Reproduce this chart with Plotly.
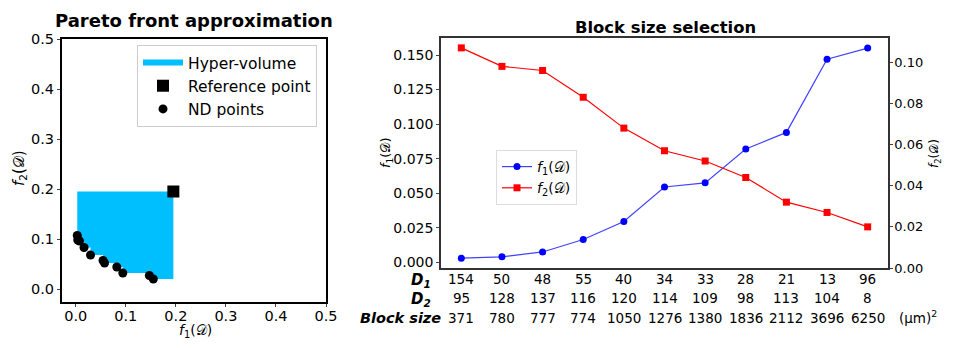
import plotly.graph_objects as go

# objective values for each candidate block size
f1 = [0.003, 0.004, 0.0075, 0.0165, 0.0295, 0.0545, 0.0575, 0.082, 0.094, 0.147, 0.155]
f2 = [0.107, 0.098, 0.096, 0.083, 0.068, 0.057, 0.052, 0.044, 0.032, 0.027, 0.020]
ref_point = [0.195, 0.195]

d1 = [154, 50, 48, 55, 40, 34, 33, 28, 21, 13, 96]
d2 = [95, 128, 137, 116, 120, 114, 109, 98, 113, 104, 8]
block_size = [371, 780, 777, 774, 1050, 1276, 1380, 1836, 2112, 3696, 6250]

# page body has an 8px margin, so the figure is shrunk and shifted
OFF = 8
W, H = 953 - 2 * OFF, 348 - 2 * OFF
FONT = "DejaVu Sans"
CAL_D = "𝒟"


def fx(px_):
    return (px_ - OFF) / W


def fy(py_):
    return 1 - (py_ - OFF) / H


def flab(n):
    return f"<i>f</i><sub>{n}</sub>({CAL_D})"


# staircase hyper-volume polygon dominated by the ND points
hv_x, hv_y = [f1[0]], [ref_point[1]]
for i in range(len(f1)):
    hv_x.append(f1[i])
    hv_y.append(f2[i])
    nxt = f1[i + 1] if i + 1 < len(f1) else ref_point[0]
    hv_x.append(nxt)
    hv_y.append(f2[i])
hv_x.append(ref_point[0])
hv_y.append(ref_point[1])

idx = list(range(len(block_size)))

fig = go.Figure()

fig.add_trace(go.Scatter(x=hv_x, y=hv_y, fill="toself", fillcolor="#00BFFF",
                         mode="none", name="Hyper-volume", xaxis="x", yaxis="y",
                         legend="legend", legendgroup="a"))
fig.add_trace(go.Scatter(x=[ref_point[0]], y=[ref_point[1]], mode="markers",
                         marker=dict(symbol="square", size=12, color="black"),
                         name="Reference point", xaxis="x", yaxis="y",
                         legend="legend", legendgroup="b"))
fig.add_trace(go.Scatter(x=f1, y=f2, mode="markers",
                         marker=dict(symbol="circle", size=9, color="black"),
                         name="ND points", xaxis="x", yaxis="y",
                         legend="legend", legendgroup="c"))

fig.add_trace(go.Scatter(x=idx, y=f1, mode="lines+markers",
                         line=dict(color="rgba(0,0,255,0.75)", width=1.2),
                         marker=dict(symbol="circle", size=7, color="#0000FF"),
                         name=flab(1), xaxis="x2", yaxis="y2", legend="legend2"))
fig.add_trace(go.Scatter(x=idx, y=f2, mode="lines+markers",
                         line=dict(color="#FF0000", width=1.2),
                         marker=dict(symbol="square", size=7, color="#FF0000"),
                         name=flab(2), xaxis="x2", yaxis="y3", legend="legend2"))

axis_common = dict(showgrid=False, zeroline=False, ticks="outside", ticklen=3)


def note(x, y, text, size, xanchor="center", angle=0, xref="paper"):
    return dict(x=x, y=y, xref=xref, yref="paper", text=text, showarrow=False,
                xanchor=xanchor, yanchor="middle", textangle=angle,
                font=dict(size=size, color="black"))


anns = []
# table below the right chart
rows = [(279, d1), (298, d2), (318, block_size)]
for py_, vals in rows:
    for i, v in zip(idx, vals):
        anns.append(note(i, fy(py_), str(v), 13.5, xref="x2"))
anns.append(note(fx(433), fy(280), "<b><i>D<sub>1</sub></i></b>", 15, xanchor="right"))
anns.append(note(fx(433), fy(299), "<b><i>D<sub>2</sub></i></b>", 15, xanchor="right"))
anns.append(note(fx(443), fy(318), "<b><i>Block size</i></b>", 14.5, xanchor="right"))
anns.append(note(fx(897), fy(317), "(µm)<sup>2</sup>", 13.5, xanchor="left"))
# titles
anns.append(note(fx(194), fy(20), "<b>Pareto front approximation</b>", 18))
anns.append(note(fx(665), fy(28), "<b>Block size selection</b>", 16.4))
# axis titles
anns.append(note(fx(195), fy(331), flab(1), 14))
anns.append(note(fx(19), fy(168), flab(2), 15, angle=-90))
anns.append(note(fx(386), fy(153), flab(1), 13, angle=-90))
anns.append(note(fx(935), fy(154), flab(2), 12, angle=-90))

fig.update_layout(
    width=W, height=H,
    margin=dict(l=0, r=0, t=0, b=0, autoexpand=False),
    paper_bgcolor="white", plot_bgcolor="white",
    font=dict(family=FONT, color="black"),
    xaxis=dict(domain=[fx(62), fx(326)], range=[-0.0275, 0.5], tickvals=[0, 0.1, 0.2, 0.3, 0.4, 0.5],
               tickformat=".1f", showline=True, linecolor="black", linewidth=2, mirror=True,
               tickfont=dict(size=14.5), anchor="y", ticklabelstandoff=-3, **axis_common),
    yaxis=dict(domain=[fy(302), fy(39)], range=[-0.026, 0.5], tickvals=[0, 0.1, 0.2, 0.3, 0.4, 0.5],
               tickformat=".1f", showline=True, linecolor="black", linewidth=2, mirror=True,
               tickfont=dict(size=14.5), anchor="x", **axis_common),
    xaxis2=dict(domain=[fx(441), fx(888)], range=[-0.5, 10.5], showticklabels=False,
                showgrid=False, zeroline=False, ticks="", showline=True, linecolor="#333333",
                linewidth=1.5, mirror=True, anchor="y2"),
    yaxis2=dict(domain=[fy(268), fy(38)], range=[-0.0041, 0.1623], dtick=0.025, tick0=0,
                tickformat=".3f", showline=True, linecolor="#333333", linewidth=1.5,
                tickfont=dict(size=14), anchor="x2", **axis_common),
    yaxis3=dict(overlaying="y2", side="right", range=[0, 0.1118], dtick=0.02, tick0=0,
                tickformat=".2f", showline=True, linecolor="#333333", linewidth=1.5,
                tickfont=dict(size=13), anchor="x2", ticklabelstandoff=-1, **axis_common),
    legend=dict(x=fx(137), y=fy(45), xanchor="left", yanchor="top",
                bordercolor="#cccccc", borderwidth=1, bgcolor="white",
                font=dict(size=15.5), itemwidth=40, tracegroupgap=0),
    legend2=dict(x=fx(496), y=fy(150), xanchor="left", yanchor="top",
                 bordercolor="#dddddd", borderwidth=1, bgcolor="white",
                 font=dict(size=14), itemwidth=30),
    annotations=anns,
    showlegend=True,
)

fig.write_html("out.html")
